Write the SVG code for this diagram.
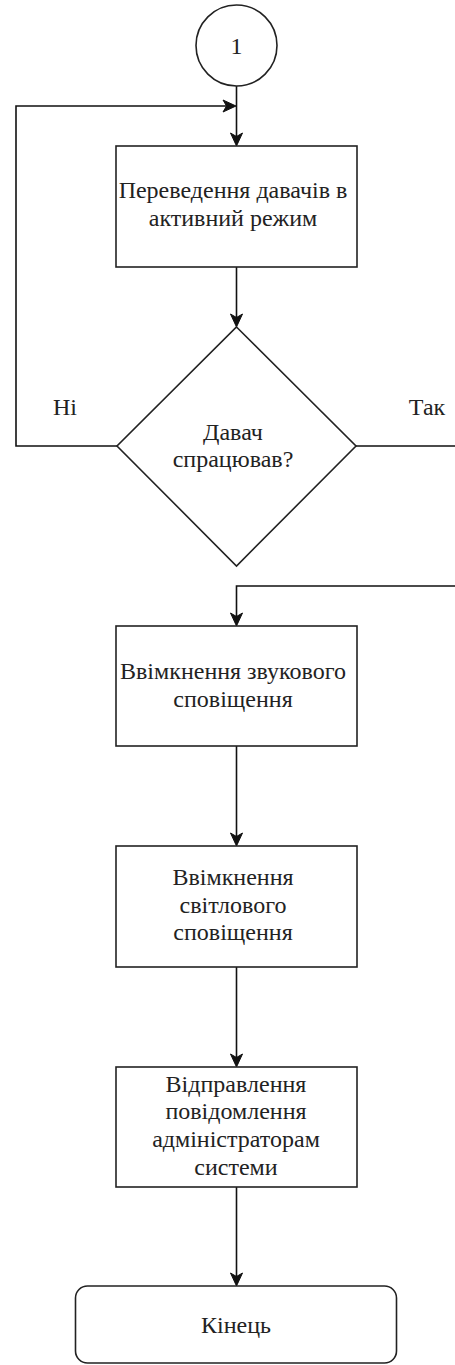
<svg xmlns="http://www.w3.org/2000/svg" width="455" height="1365" viewBox="0 0 455 1365">
<style>
.s{fill:#fff;stroke:#222;stroke-width:1.6}
.c{fill:none;stroke:#111;stroke-width:1.6}
.h{fill:#111;stroke:#111;stroke-width:1}
.t{font-family:'Liberation Serif','Times New Roman',serif;font-size:24px;fill:#222;text-anchor:middle}
</style>
<defs>
<path id="ad" d="M-6,-13 L0,0 L6,-13 L0,-9.5 Z"/>
<path id="ar" d="M-13,-6 L0,0 L-13,6 L-9.5,0 Z"/>
</defs>
<rect width="455" height="1365" fill="#fff"/>
<g id="connectors">
<path class="c" d="M236.5,86 V140"/>
<path class="c" d="M117,446 H16 V106 H228"/>
<path class="c" d="M236.5,267 V320"/>
<path class="c" d="M356,446 H460 V586 H236.5 V620"/>
<path class="c" d="M236.5,746 V840"/>
<path class="c" d="M236.5,967 V1060"/>
<path class="c" d="M236.5,1187 V1280"/>
<use href="#ad" class="h" x="236.5" y="146"/>
<use href="#ar" class="h" x="236" y="106"/>
<use href="#ad" class="h" x="236.5" y="327"/>
<use href="#ad" class="h" x="236.5" y="626"/>
<use href="#ad" class="h" x="236.5" y="846"/>
<use href="#ad" class="h" x="236.5" y="1067"/>
<use href="#ad" class="h" x="236.5" y="1286"/>
</g>
<g id="start">
<circle class="s" cx="236.5" cy="45.5" r="40.5"/>
<text class="t" x="236.5" y="54">1</text>
</g>
<g id="n1">
<rect class="s" x="116" y="146" width="241" height="121"/>
<text class="t" x="233" y="198">Переведення давачів в</text>
<text class="t" x="233" y="226">активний режим</text>
</g>
<g id="decision">
<polygon class="s" points="236.5,327 356,446 236.5,566 117,446"/>
<text class="t" x="233" y="440">Давач</text>
<text class="t" x="233" y="467">спрацював?</text>
</g>
<g id="lblNo"><text class="t" x="65" y="415">Ні</text></g>
<g id="lblYes"><text class="t" x="427" y="415">Так</text></g>
<g id="n2">
<rect class="s" x="116" y="626" width="241" height="120"/>
<text class="t" x="233" y="679">Ввімкнення звукового</text>
<text class="t" x="233" y="707">сповіщення</text>
</g>
<g id="n3">
<rect class="s" x="116" y="846" width="241" height="121"/>
<text class="t" x="233" y="885">Ввімкнення</text>
<text class="t" x="233" y="913">світлового</text>
<text class="t" x="233" y="940">сповіщення</text>
</g>
<g id="n4">
<rect class="s" x="116" y="1067" width="241" height="120"/>
<text class="t" x="236" y="1092">Відправлення</text>
<text class="t" x="236" y="1119">повідомлення</text>
<text class="t" x="236" y="1147">адміністраторам</text>
<text class="t" x="236" y="1175">системи</text>
</g>
<g id="end">
<rect class="s" x="75.5" y="1286" width="321" height="77" rx="12" ry="12"/>
<text class="t" x="236" y="1333">Кінець</text>
</g>
</svg>
